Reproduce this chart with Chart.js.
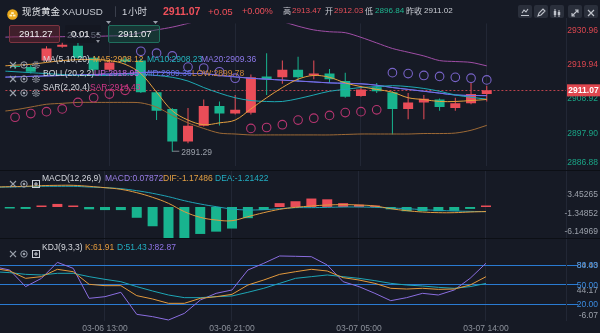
<!DOCTYPE html>
<html lang="zh-CN">
<head>
<meta charset="utf-8">
<title>现货黄金 XAUUSD 1小时</title>
<script src="https://cdn.jsdelivr.net/npm/chart.js@4.4.1/dist/chart.umd.min.js"></script>
<style>
html,body{margin:0;padding:0;background:#161a25;}
#root{position:relative;width:600px;height:333px;overflow:hidden;background:#161a25;
  font-family:"Liberation Sans",Arial,"Noto Sans CJK SC",sans-serif;}
.pane{position:absolute;left:0;}
.pane canvas{display:block;}
#overlay{position:absolute;left:0;top:0;width:600px;height:333px;pointer-events:none;}
.txt{position:absolute;white-space:nowrap;line-height:1;}
.cjk{font-family:"Noto Sans CJK SC",sans-serif;}
.ico{position:absolute;display:block;}
.sep{position:absolute;left:0;width:600px;height:1px;background:#0c0f15;}
.box{position:absolute;box-sizing:border-box;}
</style>
</head>
<body>
<div id="root">
  <div class="pane" style="top:18px"><canvas id="mainChart" width="600" height="153"></canvas></div>
  <div class="pane" style="top:171px"><canvas id="macdChart" width="600" height="68"></canvas></div>
  <div class="pane" style="top:239px"><canvas id="kdjChart" width="600" height="94"></canvas></div>
  <div class="sep" style="top:170px"></div>
  <div class="sep" style="top:238px"></div>
  <div id="overlay"></div>
</div>
<script>
// ---------- 1-hour bars, XAUUSD ----------
const times = [
  '03-06 07:00','03-06 08:00','03-06 09:00','03-06 10:00','03-06 11:00','03-06 12:00',
  '03-06 13:00','03-06 14:00','03-06 15:00','03-06 16:00','03-06 17:00','03-06 18:00',
  '03-06 19:00','03-06 20:00','03-06 21:00','03-06 22:00','03-06 23:00','03-07 00:00',
  '03-07 01:00','03-07 02:00','03-07 03:00','03-07 04:00','03-07 05:00','03-07 07:00',
  '03-07 08:00','03-07 09:00','03-07 10:00','03-07 11:00','03-07 12:00','03-07 13:00',
  '03-07 14:00'];
const axisTimes = ['03-06 13:00','03-06 21:00','03-07 05:00','03-07 14:00'];

const open  = [2918.90,2918.56,2920.65,2925.14,2925.44,2921.55,2917.66,2921.00,2920.65,2910.47,
               2905.08,2894.60,2899.69,2905.98,2903.59,2903.88,2915.56,2915.26,2917.66,2915.86,
               2916.46,2914.06,2909.27,2912.03,2910.47,2905.08,2907.18,2908.08,2905.38,2906.88,
               2909.87];
const high  = [2919.60,2919.20,2925.30,2926.40,2926.30,2922.00,2920.80,2921.90,2921.30,2910.90,
               2905.40,2905.38,2908.08,2907.50,2909.57,2916.20,2923.05,2920.65,2921.85,2920.65,
               2917.96,2916.76,2912.57,2913.47,2910.77,2910.17,2909.57,2908.40,2908.67,2913.47,
               2912.57];
const low   = [2917.90,2916.50,2920.30,2924.80,2921.00,2917.20,2917.20,2919.60,2910.20,2901.50,
               2891.29,2894.00,2899.40,2899.70,2903.30,2903.30,2909.57,2913.17,2913.76,2914.66,
               2913.47,2908.67,2909.00,2910.17,2896.84,2901.79,2901.79,2904.48,2904.48,2906.60,
               2907.50];
const close = [2918.60,2917.06,2924.54,2925.74,2921.55,2917.66,2920.05,2920.30,2910.47,2904.48,
               2894.60,2899.69,2905.98,2903.59,2904.78,2915.26,2914.66,2917.66,2915.26,2916.46,
               2914.66,2908.97,2911.37,2910.77,2905.08,2907.18,2908.38,2905.68,2906.88,2909.87,
               2911.07];

// indicator lines start one bar before the first visible candle (x = -1)
const ma5  = [2918.86,2919.16,2919.46,2920.06,2920.65,2920.95,2920.95,2920.65,2919.46,2916.46,
              2910.47,2904.49,2901.49,2899.99,2900.59,2901.49,2905.08,2908.68,2911.97,2914.66,
              2915.86,2915.26,2913.47,2912.27,2911.37,2910.47,2908.68,2908.08,2907.48,2907.48,
              2907.78,2908.12];
const ma10 = [2917.36,2917.06,2916.76,2916.46,2916.16,2915.86,2915.86,2915.86,2916.01,2916.16,
              2915.86,2915.26,2914.06,2911.97,2910.17,2908.68,2907.78,2907.48,2907.48,2908.38,
              2909.57,2910.77,2911.37,2911.97,2912.27,2912.57,2912.27,2911.67,2910.77,2909.57,
              2908.83,2908.23];
const ma20 = [2915.26,2915.41,2915.56,2915.71,2915.86,2916.01,2916.16,2916.31,2916.46,2916.76,
              2916.91,2916.76,2916.46,2916.46,2915.86,2915.41,2914.96,2914.66,2914.37,2914.06,
              2913.77,2913.47,2913.32,2913.17,2912.72,2911.97,2911.37,2910.77,2910.17,2909.57,
              2909.42,2909.36];
const bollUp  = [2928.14,2928.29,2928.29,2928.29,2928.35,2928.44,2928.44,2928.59,2928.74,2929.64,
                 2930.53,2931.43,2932.63,2933.83,2934.43,2934.73,2934.73,2934.43,2933.23,2931.73,
                 2930.53,2929.94,2929.64,2928.14,2926.34,2924.55,2923.35,2922.15,2920.65,2920.35,
                 2920.06,2918.95];
const bollLow = [2904.19,2904.79,2905.68,2906.58,2906.88,2907.18,2907.18,2907.18,2907.18,2907.03,
                 2905.68,2902.99,2900.59,2898.79,2897.30,2897.00,2896.70,2896.70,2896.70,2896.70,
                 2896.70,2896.70,2896.85,2897.00,2897.00,2897.00,2897.00,2897.15,2897.15,2897.30,
                 2898.20,2899.78];
const sar = [2902.39,2903.59,2904.19,2905.08,2907.18,2908.68,2909.87,2911.07,2923.65,2923.05,
             2922.15,2918.56,2918.26,2917.06,2914.97,2898.79,2899.09,2899.99,2901.49,2902.09,
             2902.99,2903.89,2904.19,2904.79,2916.76,2916.46,2915.86,2915.56,2915.26,2914.97,
             2914.43];

const macdHist = [-0.15,-0.50,0.15,0.80,0.30,-0.60,-0.80,-0.80,-2.80,-5.00,
                  -8.50,-8.50,-7.00,-6.40,-5.60,-2.90,-0.80,1.00,1.50,2.20,
                  2.00,1.00,0.60,0.30,-0.60,-1.10,-1.10,-1.10,-1.00,-0.50,
                  0.07872];
const dif = [5.19,5.28,5.37,5.54,5.63,5.63,5.37,5.02,4.59,3.72,2.51,0.95,-1.21,-2.68,-3.38,-3.55,
             -2.51,-1.47,-0.61,-0.09,0.26,0.52,0.61,0.52,0.26,-0.43,-0.95,-1.30,-1.47,-1.47,-1.30,
             -1.17486];
const dea = [5.11,5.19,5.28,5.37,5.37,5.37,5.19,5.02,4.76,4.24,3.55,2.68,1.64,0.78,0.09,-0.52,
             -0.78,-0.69,-0.43,-0.17,-0.17,-0.09,0.00,0.00,-0.09,-0.26,-0.43,-0.69,-0.87,-1.04,-1.13,
             -1.21422];

const kLine = [74.9,70.8,59.4,62.0,73.4,69.7,50.1,48.0,48.0,32.5,27.3,20.6,20.6,28.3,30.9,34.5,
               49.0,56.8,65.6,69.7,73.4,70.8,60.4,56.8,51.6,43.9,42.8,43.9,42.3,42.8,49.0,61.91];
const dLine = [69.7,68.2,65.6,64.6,67.2,67.2,62.0,57.8,54.2,46.5,39.7,33.5,29.4,29.4,30.9,32.0,
               37.7,43.9,51.6,59.4,62.0,64.6,62.0,59.4,55.8,51.6,49.0,47.5,45.4,43.9,46.5,51.43];
const jLine = [77.5,72.3,46.5,59.4,84.2,74.9,28.3,30.9,37.7,3.5,-0.1,-5.3,5.0,25.7,36.1,41.3,
               72.3,82.7,94.1,93.6,93.0,80.1,54.2,46.5,36.1,24.7,29.4,36.1,33.5,41.3,59.4,82.87];

const priceTicks = [2930.96,2919.94,2908.92,2897.90,2886.88];
const macdTicks  = [3.45265,-1.34852,-6.14969];
const kdjLevels  = [80,50,20];
const kdjTicks   = [84.43,44.17,-6.07];

const quote = {last:2911.07, chg:'+0.05', pct:'+0.00%', high:2913.47, open:2912.03, low:2896.84, prev:2911.02};

// ---------- styling ----------
const C = {
  up:'#ea4d58', down:'#18b48f', grid:'#222735',
  ma5:'#e59f3f', ma10:'#1ea9b3', ma20:'#7a6ee6',
  bollUp:'#a04ea6', bollMid:'#5c6ee2', bollLow:'#9e6a36',
  sarLo:'#b73570', sarHi:'#7863c8',
  dif:'#e09b40', dea:'#1fa3b6',
  k:'#e39a3d', d:'#1ea6b6', j:'#8b6ee0',
  level:'#2a7bd2', axis:'#9ba0aa', axUp:'#d9464f', axDn:'#1aa385'
};
const AXIS_FONT = '8.5px "Liberation Sans", Arial, sans-serif';
const X_MIN = -0.614, X_MAX = 35.04;
const tickIdx = axisTimes.map(t => times.indexOf(t));
const last = close.length - 1;
const lastPrice = close[last];
const candleColor = i => close[i] >= open[i] ? C.up : C.down;
const fromPrev = arr => arr.map((v, k) => ({x: k - 1, y: v}));

function xScale(showLabels) {
  return {
    type:'linear', min:X_MIN, max:X_MAX, offset:false,
    grid:{color:C.grid, drawTicks:false, offset:false, lineWidth:1},
    border:{display:false},
    ticks:{display:showLabels, autoSkip:false, maxRotation:0, padding:3, color:'#8d929c',
           font:{size:8.5, family:'"Liberation Sans", Arial, sans-serif'},
           callback:v => times[v] || ''},
    afterBuildTicks:s => { s.ticks = tickIdx.map(v => ({value:v})); },
    afterFit:s => { s.height = showLabels ? 12 : 0; }
  };
}
const lineDs = (label, arr, color, tension, order) => ({
  type:'line', label, data:fromPrev(arr), borderColor:color, borderWidth:1,
  pointRadius:0, tension, order, fill:false
});
const baseOptions = (yMin, yMax, showX) => ({
  responsive:false, animation:false, events:[],
  layout:{padding:{left:0, right:34, top:0, bottom:0}},
  plugins:{legend:{display:false}, tooltip:{enabled:false}},
  scales:{x:xScale(showX), y:{type:'linear', display:false, min:yMin, max:yMax}}
});

// ---------- price pane ----------
const pricePane = {
  id:'pricePane',
  beforeDatasetsDraw(chart) {
    const {ctx, chartArea:a, scales:{y}} = chart;
    const py = Math.round(y.getPixelForValue(lastPrice)) + 0.5;
    ctx.save();
    ctx.strokeStyle = 'rgba(226,76,86,0.8)'; ctx.lineWidth = 1; ctx.setLineDash([2, 2]);
    ctx.beginPath(); ctx.moveTo(a.left, py); ctx.lineTo(a.right, py); ctx.stroke();
    ctx.restore();
  },
  afterDraw(chart) {
    const {ctx, chartArea:a, scales:{x, y}} = chart;
    ctx.save();
    ctx.strokeStyle = C.grid; ctx.lineWidth = 1;
    ctx.beginPath(); ctx.moveTo(a.right + 0.5, 0); ctx.lineTo(a.right + 0.5, chart.height); ctx.stroke();
    ctx.font = AXIS_FONT; ctx.textAlign = 'right'; ctx.textBaseline = 'middle';
    priceTicks.forEach(v => {
      const py = Math.min(Math.max(y.getPixelForValue(v) + 2, 11), chart.height - 8);
      ctx.fillStyle = v > lastPrice ? C.axUp : C.axDn;
      ctx.fillText(v.toFixed(2), 598, py);
    });
    // low-of-range marker
    let li = 0; low.forEach((v, i) => { if (v < low[li]) li = i; });
    const lx = x.getPixelForValue(li), ly = y.getPixelForValue(low[li]);
    ctx.strokeStyle = '#80858f';
    ctx.beginPath(); ctx.moveTo(lx, ly - 0.5); ctx.lineTo(lx + 7, ly - 0.5); ctx.stroke();
    ctx.fillStyle = '#9ba0aa'; ctx.textAlign = 'left';
    ctx.fillText(low[li].toFixed(2), lx + 9, ly + 1);
    // last price tag
    const py = y.getPixelForValue(lastPrice);
    ctx.fillStyle = '#e0474f';
    ctx.fillRect(a.right + 1, py - 6, chart.width - a.right - 1, 12);
    ctx.fillStyle = '#ffffff'; ctx.textAlign = 'center';
    ctx.font = 'bold ' + AXIS_FONT;
    ctx.fillText(lastPrice.toFixed(2), (a.right + 1 + chart.width) / 2, py + 0.5);
    ctx.restore();
  }
};

new Chart(document.getElementById('mainChart'), {
  type:'bar',
  data:{datasets:[
    {type:'line', label:'SAR', data:sar.map((v, i) => ({x:i, y:v})), showLine:false,
     pointRadius:4.3, pointBorderWidth:1.1, pointBackgroundColor:'rgba(0,0,0,0)',
     pointBorderColor:c => sar[c.dataIndex] > close[c.dataIndex] ? C.sarHi : C.sarLo, order:0},
    lineDs('MA5', ma5, C.ma5, 0.35, 1),
    lineDs('MA10', ma10, C.ma10, 0.35, 1),
    lineDs('MA20', ma20, C.ma20, 0.35, 1),
    lineDs('UP', bollUp, C.bollUp, 0.3, 2),
    lineDs('MID', ma20, C.bollMid, 0.35, 2),
    lineDs('LOW', bollLow, C.bollLow, 0.3, 2),
    {label:'body', data:open.map((o, i) => ({x:i, y:[o, close[i]]})),
     backgroundColor:c => candleColor(c.dataIndex), grouped:false, maxBarThickness:10, minBarLength:1, order:5},
    {label:'wick', data:low.map((l, i) => ({x:i, y:[l, high[i]]})),
     backgroundColor:c => candleColor(c.dataIndex), grouped:false, maxBarThickness:1, order:6}
  ]},
  options:baseOptions(2886.82, 2932.63, false),
  plugins:[pricePane]
});

// ---------- MACD pane ----------
const macdPane = {
  id:'macdPane',
  afterDraw(chart) {
    const {ctx, chartArea:a, scales:{y}} = chart;
    ctx.save();
    ctx.strokeStyle = C.grid;
    ctx.beginPath(); ctx.moveTo(a.right + 0.5, 0); ctx.lineTo(a.right + 0.5, chart.height); ctx.stroke();
    ctx.font = AXIS_FONT; ctx.textAlign = 'right'; ctx.textBaseline = 'middle'; ctx.fillStyle = C.axis;
    macdTicks.forEach(v => ctx.fillText(v.toFixed(5), 598, y.getPixelForValue(v) + 1));
    ctx.restore();
  }
};
new Chart(document.getElementById('macdChart'), {
  type:'bar',
  data:{datasets:[
    lineDs('DIF', dif, C.dif, 0.4, 0),
    lineDs('DEA', dea, C.dea, 0.4, 0),
    {label:'MACD', data:macdHist.map((v, i) => ({x:i, y:v})),
     backgroundColor:c => macdHist[c.dataIndex] >= 0 ? C.up : C.down,
     grouped:false, maxBarThickness:10, minBarLength:1.5, order:3}
  ]},
  options:baseOptions(-8.31, 9.35, false),
  plugins:[macdPane]
});

// ---------- KDJ pane ----------
const kdjPane = {
  id:'kdjPane',
  beforeDatasetsDraw(chart) {
    const {ctx, chartArea:a, scales:{y}} = chart;
    ctx.save(); ctx.strokeStyle = C.level; ctx.lineWidth = 1;
    kdjLevels.forEach(v => {
      const py = Math.round(y.getPixelForValue(v)) + 0.5;
      ctx.beginPath(); ctx.moveTo(a.left, py); ctx.lineTo(578, py); ctx.stroke();
    });
    ctx.restore();
  },
  afterDraw(chart) {
    const {ctx, chartArea:a, scales:{y}} = chart;
    ctx.save();
    ctx.strokeStyle = C.grid;
    ctx.beginPath(); ctx.moveTo(a.right + 0.5, 0); ctx.lineTo(a.right + 0.5, a.bottom); ctx.stroke();
    ctx.font = AXIS_FONT; ctx.textAlign = 'right'; ctx.textBaseline = 'middle';
    ctx.fillStyle = C.axis;
    kdjTicks.forEach(v => ctx.fillText(v.toFixed(2), 598, Math.min(y.getPixelForValue(v) + 3, a.bottom - 5)));
    ctx.fillStyle = '#3b8be0';
    kdjLevels.forEach(v => ctx.fillText(v.toFixed(2), 598, y.getPixelForValue(v) + 1));
    ctx.restore();
  }
};
new Chart(document.getElementById('kdjChart'), {
  type:'line',
  data:{datasets:[
    lineDs('K', kLine, C.k, 0, 0),
    lineDs('D', dLine, C.d, 0, 0),
    lineDs('J', jLine, C.j, 0, 0)
  ]},
  options:baseOptions(-6.86, 120.47, true),
  plugins:[kdjPane]
});

// ---------- header, legends and overlays ----------
const ov = document.getElementById('overlay');
function txt(s, x, yc, color, size, bold, cls) {
  const el = document.createElement('div');
  el.className = 'txt' + (cls ? ' ' + cls : ''); el.textContent = s;
  el.style.left = x + 'px'; el.style.top = (yc - size / 2) + 'px';
  el.style.color = color; el.style.fontSize = size + 'px';
  if (bold) el.style.fontWeight = 'bold';
  ov.appendChild(el); return el;
}
function svg(markup, x, y, w, h) {
  const el = document.createElement('div');
  el.className = 'ico';
  el.style.left = x + 'px'; el.style.top = y + 'px';
  el.innerHTML = `<svg width="${w}" height="${h}" viewBox="0 0 ${w} ${h}">${markup}</svg>`;
  ov.appendChild(el); return el;
}
function box(x, y, w, h, bg, border) {
  const el = document.createElement('div');
  el.className = 'box';
  Object.assign(el.style, {left:x + 'px', top:y + 'px', width:w + 'px', height:h + 'px', background:bg,
    border: border ? '1px solid ' + border : 'none', borderRadius:'2px'});
  ov.appendChild(el); return el;
}
const G = '#9aa0ab';
const icoX = `<path d="M1 1L7 7M7 1L1 7" stroke="${G}" stroke-width="1.1"/>`;
const icoEye = `<circle cx="4" cy="4" r="3.2" fill="none" stroke="${G}" stroke-width="1"/><circle cx="4" cy="4" r="1.3" fill="${G}"/>`;
const icoGear = `<circle cx="4" cy="4" r="3.1" fill="none" stroke="${G}" stroke-width="1.5" stroke-dasharray="1.2 0.9"/><circle cx="4" cy="4" r="1.3" fill="none" stroke="${G}" stroke-width="0.9"/>`;
const icoPlus = `<rect x="0.5" y="0.5" width="7" height="7" fill="none" stroke="#c9cdd5"/><path d="M4 2v4M2 4h4" stroke="#c9cdd5"/>`;
const tri = c => `<path d="M0 0h5L2.5 3z" fill="${c}"/>`;

// header
svg(`<circle cx="5.5" cy="5.5" r="5.3" fill="#e9a91c"/><rect x="2.5" y="5.6" width="2.6" height="1.8" fill="#fff3c4"/><rect x="5.9" y="5.6" width="2.6" height="1.8" fill="#fff3c4"/><rect x="4.2" y="3.2" width="2.6" height="1.8" fill="#fff3c4"/>`, 7, 6, 11, 11);
txt('现货黄金', 22, 11.5, '#e4e6ea', 9.5, false, 'cjk');
txt('XAUUSD', 62, 11.5, '#c3c7cf', 9.8);
svg(tri('#9aa0ab'), 106, 10, 5, 3);
box(115, 6, 1, 11, '#3a3f4c');
txt('1', 122, 11.5, '#d0d3da', 9.5);
txt('小时', 128, 11.5, '#d0d3da', 9.5, false, 'cjk');
svg(tri('#9aa0ab'), 153, 10, 5, 3);
txt(quote.last.toFixed(2), 163, 11.5, '#f0505b', 10.5, true);
txt(quote.chg, 208, 11.5, '#f0505b', 9.8);
txt(quote.pct, 242, 11.5, '#f0505b', 9);
const S = 8.1;
txt('高', 283, 11.5, '#c9ccd3', S, false, 'cjk');
txt(quote.high.toFixed(2), 292, 11.5, '#e8505a', S);
txt('开', 325, 11.5, '#c9ccd3', S, false, 'cjk');
txt(quote.open.toFixed(2), 334, 11.5, '#e8505a', S);
txt('低', 365, 11.5, '#c9ccd3', S, false, 'cjk');
txt(quote.low.toFixed(2), 375, 11.5, '#1fb58f', S);
txt('昨收', 406, 11.5, '#c9ccd3', S, false, 'cjk');
txt(quote.prev.toFixed(2), 424, 11.5, '#c9ccd3', S);
const tools = [
  `<path d="M3 9.5h8M4 7l2-3 2 2 2-3" stroke="#c0c4cc" fill="none" stroke-width="1.1"/>`,
  `<path d="M4 10l1-3 4-4 2 2-4 4z" stroke="#c0c4cc" fill="none" stroke-width="1.1"/>`,
  `<path d="M5 3v8M9 4v7" stroke="#c0c4cc"/><rect x="3.8" y="5" width="2.4" height="4" fill="#c0c4cc"/><rect x="7.8" y="6" width="2.4" height="3" fill="#c0c4cc"/>`,
  `<path d="M4 10l6-6M7 4h3v3M4 7v3h3" stroke="#c0c4cc" fill="none" stroke-width="1.1"/>`,
  `<path d="M4 4l6 6M10 4l-6 6" stroke="#c0c4cc" stroke-width="1.2"/>`
];
[518, 534, 550, 568, 584].forEach((x, i) => { box(x, 5, 14, 13, '#2a2f3b'); svg(tools[i], x, 5, 14, 13); });

// measuring tool boxes
box(9, 25, 51, 18, 'rgba(116,38,50,0.45)', '#7e3440');
txt('2911.27', 19, 34, '#f1f1f3', 9.5);
box(65, 25, 36, 18, 'rgba(20,24,33,0.85)');
txt('2910.55', 67, 35, '#5d6270', 9.5);
txt('0.01', 71, 34, '#f1f1f3', 9.5);
svg(`<path d="M0 3L2 0L4 3z" fill="#8d929c"/><path d="M0 8L2 11L4 8z" fill="#8d929c"/>`, 96, 28.5, 4, 11);
box(108, 25, 52, 18, 'rgba(24,86,72,0.45)', '#1f6f5d');
txt('2911.07', 118, 34, '#f1f1f3', 9.5);

// indicator legends
function legendIcons(yc, third) {
  svg(icoX, 9, yc - 4, 8, 8);
  svg(icoEye, 20, yc - 4, 8, 8);
  svg(third, 32, yc - 4, 8, 8);
}
const L = 8.5, W = '#d6d9df';
const lv = (arr, d) => arr[arr.length - 1].toFixed(d);
legendIcons(59, icoGear);
txt('MA(5,10,20)', 43, 59, W, L);
txt('MA5:' + lv(ma5, 2), 93, 59, C.ma5, L);
txt('MA10:' + lv(ma10, 2), 147, 59, '#22b3bd', L);
txt('MA20:' + lv(ma20, 2), 201, 59, '#8d78ea', L);
legendIcons(73, icoGear);
txt('BOLL(20,2,2)', 43, 73, W, L);
txt('UP:' + lv(bollUp, 2), 94, 73, '#c266d4', L);
txt('MID:' + lv(ma20, 2), 143, 73, '#6273e6', L);
txt('LOW:' + lv(bollLow, 2), 192, 73, '#c9843c', L);
legendIcons(87, icoGear);
txt('SAR(2,20,4)', 43, 87, W, L);
txt('SAR:' + lv(sar, 2), 90, 87, '#d2388a', L);

legendIcons(178, icoPlus);
txt('MACD(12,26,9)', 42, 178, W, L);
txt('MACD:' + lv(macdHist, 5), 105, 178, '#9b7fe8', L);
txt('DIF:' + lv(dif, 5), 163, 178, '#e3a043', L);
txt('DEA:' + lv(dea, 5), 215, 178, '#22aec2', L);

legendIcons(247.5, icoPlus);
txt('KDJ(9,3,3)', 42, 247.5, W, L);
txt('K:' + lv(kLine, 2), 85, 247.5, '#e39a3d', L);
txt('D:' + lv(dLine, 2), 117, 247.5, '#22aec2', L);
txt('J:' + lv(jLine, 2), 148, 247.5, '#8f74e6', L);
</script>
</body>
</html>
